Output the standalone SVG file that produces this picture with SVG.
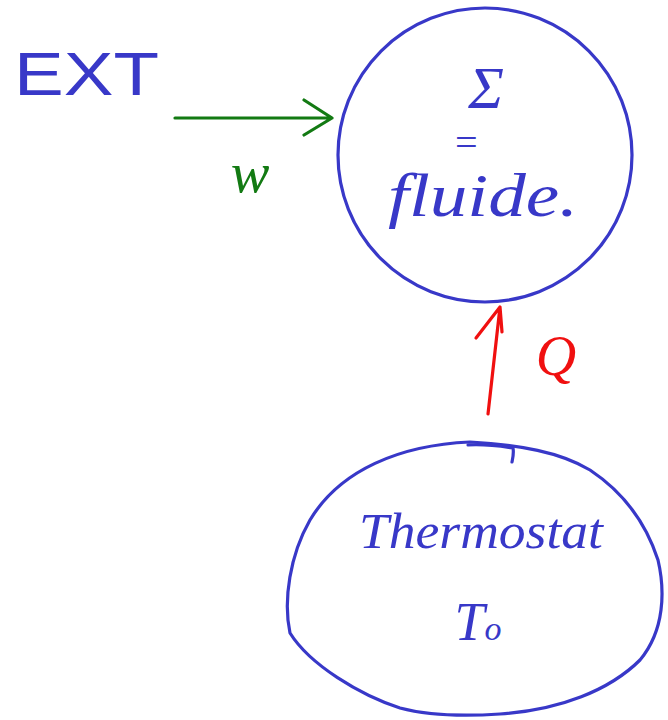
<svg xmlns="http://www.w3.org/2000/svg" width="668" height="720" viewBox="0 0 668 720">
<style>
.outline{fill:none;stroke:#3838c8;stroke-width:3.2;stroke-linecap:round;stroke-linejoin:round}
.lbl{font-family:"Liberation Serif",serif;font-style:italic;fill:#3838c8}
.green{fill:none;stroke:#137a13;stroke-width:3.2;stroke-linecap:round;stroke-linejoin:round}
.red{fill:none;stroke:#f01010;stroke-width:3.2;stroke-linecap:round;stroke-linejoin:round}
</style>
<rect width="668" height="720" fill="#ffffff"/>
<g id="ext">
<text x="14" y="95" font-size="62" textLength="145" lengthAdjust="spacingAndGlyphs" fill="#3838c8" font-family="Liberation Sans, sans-serif">EXT</text>
</g>
<g id="systeme">
<circle class="outline" cx="485" cy="155" r="147"/>
<text class="lbl" x="486" y="108" font-size="60" text-anchor="middle">Σ</text>
<text class="lbl" x="466" y="156" font-size="40" text-anchor="middle">=</text>
<text class="lbl" x="483" y="216" font-size="62" text-anchor="middle" textLength="190" lengthAdjust="spacingAndGlyphs">fluide.</text>
</g>
<g id="thermostat">
<path class="outline" d="M470,442 C400,445 340,470 310,520 C290,555 283,600 290,633 C310,665 360,695 400,708 C430,716 470,716 500,714 C560,710 610,690 640,660 C665,630 665,590 658,560 C645,520 620,490 590,470 C560,452 520,445 470,442 Z"/>
<path class="outline" d="M468,445 C485,444 500,446 513,448 C514,453 513,457 512,462"/>
<text class="lbl" x="481" y="548" font-size="50" text-anchor="middle" textLength="244" lengthAdjust="spacingAndGlyphs">Thermostat</text>
<text class="lbl" x="478" y="640" font-size="54" text-anchor="middle">T<tspan font-size="34">o</tspan></text>
</g>
<g id="connectors">
<path class="green" d="M175,118 L332,118 M304,100 L332,118 L304,135"/>
<path class="red" d="M488,414 L500,307 M476,338 L500,307 L502,332"/>
</g>
<g id="labels">
<text x="250" y="192" font-family="Liberation Serif,serif" font-style="italic" font-size="58" fill="#137a13" text-anchor="middle">w</text>
<text x="556" y="375" font-family="Liberation Serif,serif" font-style="italic" font-size="56" fill="#f01010" text-anchor="middle">Q</text>
</g>
</svg>
